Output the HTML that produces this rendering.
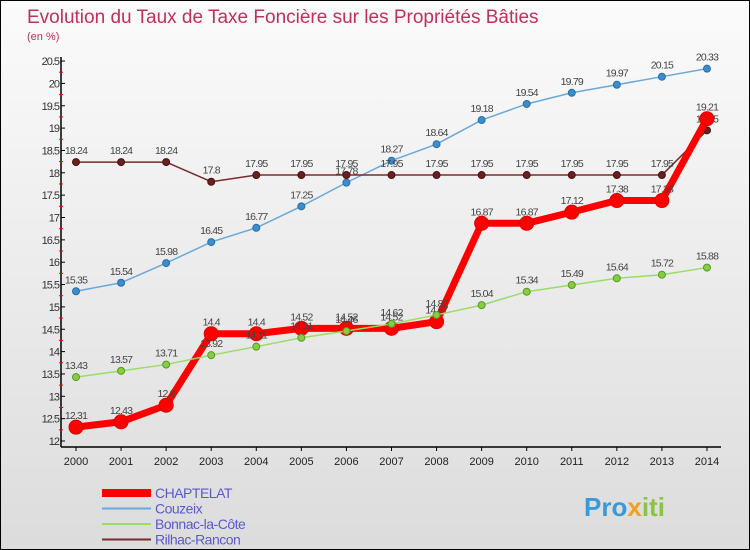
<!DOCTYPE html>
<html><head><meta charset="utf-8"><style>
body{margin:0}
#wrap{width:750px;height:550px;position:relative;box-sizing:border-box;border:1px solid #000;background:linear-gradient(#fbfbfb,#dcdcdc);font-family:"Liberation Sans",sans-serif;overflow:hidden}
</style></head><body>
<div id="wrap">
<svg id="svg" width="750" height="550" style="position:absolute;left:0;top:0">
<text x="26" y="22" font-size="19" fill="#c0305a">Evolution du Taux de Taxe Foncière sur les Propriétés Bâties</text>
<text x="26" y="39" font-size="11" fill="#c0305a">(en %)</text>
<g id="axes"></g><g id="series"></g><g id="legend"></g>
<text x="583" y="515" font-size="26" font-weight="bold" fill="#3a9ad9">Pro<tspan fill="#f0a020">x</tspan><tspan fill="#88c540">iti</tspan></text>
</svg>
</div>
<script>
const years=["2000","2001","2002","2003","2004","2005","2006","2007","2008","2009","2010","2011","2012","2013","2014"];
const chaptelat=[12.31,12.43,12.8,14.4,14.4,14.52,14.52,14.52,14.67,16.87,16.87,17.12,17.38,17.38,19.21];
const couzeix=[15.35,15.54,15.98,16.45,16.77,17.25,17.78,18.27,18.64,19.18,19.54,19.79,19.97,20.15,20.33];
const bonnac=[13.43,13.57,13.71,13.92,14.11,14.31,14.46,14.62,14.82,15.04,15.34,15.49,15.64,15.72,15.88];
const rilhac=[18.24,18.24,18.24,17.8,17.95,17.95,17.95,17.95,17.95,17.95,17.95,17.95,17.95,17.95,18.95];
const yTicks=[12,12.5,13,13.5,14,14.5,15,15.5,16,16.5,17,17.5,18,18.5,19,19.5,20,20.5];
const NS="http://www.w3.org/2000/svg";
const x=i=>75+i*45.07;
const y=v=>440-(v-12)*44.7;
function mk(tag,attrs,parent){const e=document.createElementNS(NS,tag);for(const k in attrs)e.setAttribute(k,attrs[k]);parent.appendChild(e);return e;}
const ax=document.getElementById('axes');
let l=mk('line',{x1:60,y1:56,x2:60,y2:446,stroke:'#000','stroke-width':1.5},ax);


l=mk('line',{x1:60,y1:446,x2:720,y2:446,stroke:'#000','stroke-width':1.5},ax);


yTicks.forEach(v=>{
 mk('line',{x1:60,y1:y(v),x2:64,y2:y(v),stroke:'#000'},ax);
 if(v<20.5) mk('line',{x1:58,y1:y(v+0.25),x2:62,y2:y(v+0.25),stroke:'#f00'},ax);
 const t=mk('text',{x:58,y:y(v)+4,'font-size':11,'text-anchor':'end',fill:'#333','letter-spacing':'-1'},ax);
 t.textContent=String(v);
 
 
});
years.forEach((yr,i)=>{
 mk('line',{x1:x(i),y1:446,x2:x(i),y2:450,stroke:'#000'},ax);
 const t=mk('text',{x:x(i),y:464,'font-size':11,'text-anchor':'middle',fill:'#222'},ax);
 t.textContent=yr;
 
 
});
const sg=document.getElementById('series');
function series(data,color,lw,r,name,dot,stroke){
 const g=mk('g',{},sg);
 
 
 const p=mk('polyline',{points:data.map((v,i)=>x(i)+','+y(v)).join(' '),fill:'none',stroke:color,'stroke-width':lw,'stroke-linejoin':'round'},g);
 
 
 data.forEach((v,i)=>{
  const c=mk('circle',{cx:x(i),cy:y(v),r:r,fill:dot,stroke:stroke,'stroke-width':1},g);
  
  
  const t=mk('text',{x:x(i),y:y(v)-8,'font-size':10.5,'text-anchor':'middle',fill:'#444','letter-spacing':'-0.8'},g);
  t.textContent=String(v);
  
  
 });
}
series(couzeix,'#6aa8d8',1.5,3.5,'couzeix','#3a8ed0','#2a6ea0');
series(rilhac,'#7a2a2a',1.5,3.5,'rilhac-rancon','#6a2020','#4a1010');
series(chaptelat,'#ff0000',7,7,'chaptelat','#ff0000','#dd0000');
series(bonnac,'#99dd66',1.5,3.5,'bonnac-la-cote','#88cc44','#559922');
const lg=document.getElementById('legend');
[['CHAPTELAT','#ff0000',8],['Couzeix','#6aa8d8',2],['Bonnac-la-Côte','#99dd66',2],['Rilhac-Rancon','#7a2a2a',2]].forEach((d,i)=>{
 const yy=492+i*15.5;
 const g=mk('g',{},lg);
 
 
 mk('line',{x1:101,y1:yy,x2:150,y2:yy,stroke:d[1],'stroke-width':d[2]},g);
 const t=mk('text',{x:154,y:yy+5,'font-size':14,fill:'#5a5acc','letter-spacing':'-0.5'},g);
 t.textContent=d[0];
});
</script>
</body></html>
